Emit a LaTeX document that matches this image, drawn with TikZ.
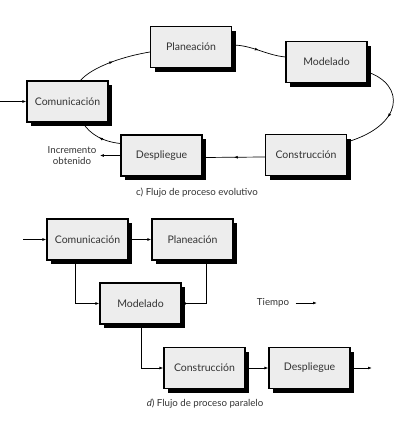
\documentclass[tikz,border=0pt]{standalone}
\usepackage{fontspec}
\setmainfont{Lato}
\usetikzlibrary{arrows.meta,shadows,decorations.markings}
\definecolor{boxgray}{HTML}{EDEDED}
\definecolor{txtgray}{HTML}{333333}
\tikzset{
  procbox/.style={draw=black, line width=1.1pt, fill=boxgray, minimum width=81pt, minimum height=41pt,
    inner sep=0pt, font=\fontsize{10.5}{12.5}\selectfont, text=txtgray,
    drop shadow={shadow xshift=4pt, shadow yshift=-4pt, fill=black, opacity=1}},
  conn/.style={line width=0.7pt},
  tip/.style={-{Latex[length=4pt,width=2.8pt]}},
  midarrow/.style={postaction={decorate}, decoration={markings, mark=at position #1 with {\arrow{Latex[length=4pt,width=2.8pt]}}}},
  caption/.style={font=\fontsize{9.7}{11}\selectfont, text=txtgray},
}
\begin{document}
\begin{tikzpicture}[x=1pt,y=-1pt]
\useasboundingbox (0,0) rectangle (407,421);
% top: evolutionary
\node[procbox] (p1) at (191,47) {Planeación};
\node[procbox] (m1) at (326.5,62) {Modelado};
\node[procbox] (c1) at (67.5,101.5) {Comunicación};
\node[procbox] (d1) at (161.5,155.5) {Despliegue};
\node[procbox] (k1) at (306,155) {Construcción};
\coordinate (in1) at (0,101.5);
\node[caption, align=center] (inc) at (72,155.5) {Incremento\\obtenido};
\node[caption] (cap1) at (197,193) {c) Flujo de proceso evolutivo};

\draw[conn,tip] (in1) -- (c1.west);
\draw[conn,midarrow=0.5] ([xshift=13pt]c1.north) .. controls +(12,-14) and +(-25,4) .. ([yshift=-5pt]p1.west);
\draw[conn,midarrow=0.5] ([yshift=2pt]p1.east) .. controls +(20,0) and +(-20,-2) .. ([yshift=5pt]m1.west);
\draw[conn,midarrow=0.55] ([yshift=-10pt]m1.east) .. controls +(38,13) and +(57,-17) .. ([yshift=13pt]k1.east);
\draw[conn,midarrow=0.5] ([yshift=-2pt]k1.west) -- ([yshift=-2pt]d1.east);
\draw[conn,midarrow=0.5] ([yshift=12pt]d1.west) .. controls +(-18,-2) and +(8,12) .. ([xshift=15pt]c1.south);
\draw[conn,tip] (d1.west) -- (inc.east);

% bottom: parallel
\node[procbox] (c2) at (87.5,239.5) {Comunicación};
\node[procbox] (p2) at (192.5,239.5) {Planeación};
\node[procbox] (m2) at (140.5,303.5) {Modelado};
\node[procbox] (k2) at (204.5,368) {Construcción};
\node[procbox] (d2) at (309.5,368) {Despliegue};
\coordinate (in2) at (23,239.5);
\coordinate (out2) at (372,368);
\node[caption] (tiempo) at (273,303) {Tiempo};
\coordinate (tend) at (317,303);
\node[caption] (cap2) at (205,404) {\textit{d}) Flujo de proceso paralelo};

\draw[conn,tip] (in2) -- (c2.west);
\draw[conn,tip] (c2.east) -- (p2.west);
\draw[conn,tip] ([xshift=-12pt]c2.south) |- (m2.west);
\draw[conn,tip] ([xshift=14pt]p2.south) |- (m2.east);
\draw[conn,tip] ([xshift=1pt]m2.south) |- (k2.west);
\draw[conn,tip] (k2.east) -- (d2.west);
\draw[conn,tip] (d2.east) -- (out2);
\draw[conn,tip] ([xshift=3pt]tiempo.east) -- (tend);
\end{tikzpicture}
\end{document}
